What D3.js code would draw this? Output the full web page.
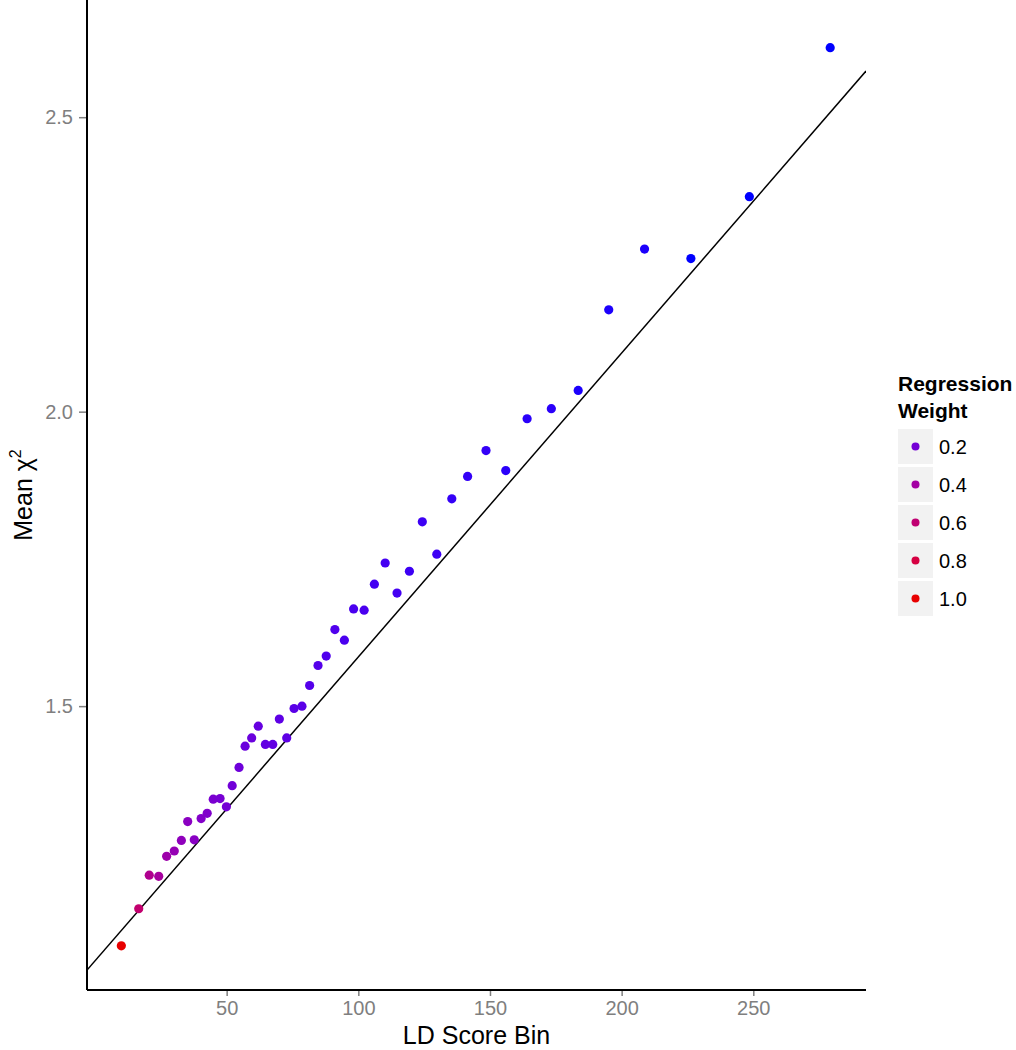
<!DOCTYPE html>
<html>
<head>
<meta charset="utf-8">
<script src="https://cdn.jsdelivr.net/npm/d3@7"></script>
<style>
  body { margin: 0; background: #fff; }
  svg { font-family: "Liberation Sans", Arial, sans-serif; }
  .tick text { fill: #7f7f7f; font-size: 20px; }
  .tick line { stroke: #7f7f7f; }
  .label { font-size: 25px; fill: #000; }
</style>
</head>
<body>
<svg width="1016" height="1050"></svg>
<script>
// LD score bins (x), mean chi-square (y), regression weight (colour)
const ldScore = [10.0, 16.6, 20.6, 24.2, 27.2, 30.1, 32.8, 35.2, 37.7, 40.3,
  42.6, 44.9, 47.5, 49.9, 52.1, 54.7, 57.0, 59.5, 62.0, 64.7,
  67.5, 70.0, 72.8, 75.6, 78.6, 81.5, 84.7, 87.8, 91.1, 94.7,
  98.2, 102.2, 106.1, 110.2, 114.7, 119.4, 124.3, 129.8, 135.5, 141.5,
  148.5, 156.0, 164.1, 173.3, 183.5, 195.1, 208.7, 226.3, 248.5, 279.2];
const meanChi2 = [1.093, 1.156, 1.213, 1.211, 1.245, 1.254, 1.272, 1.304, 1.273, 1.309,
  1.318, 1.342, 1.343, 1.329, 1.365, 1.396, 1.432, 1.446, 1.466, 1.435,
  1.435, 1.478, 1.446, 1.496, 1.500, 1.535, 1.569, 1.585, 1.630, 1.612,
  1.665, 1.663, 1.707, 1.743, 1.692, 1.729, 1.813, 1.758, 1.852, 1.890,
  1.934, 1.900, 1.988, 2.005, 2.036, 2.173, 2.276, 2.260, 2.365, 2.618];
const weight = [1.00, 0.62, 0.48, 0.42, 0.37, 0.33, 0.30, 0.28, 0.27, 0.25,
  0.24, 0.22, 0.21, 0.20, 0.19, 0.18, 0.17, 0.17, 0.16, 0.15,
  0.15, 0.14, 0.14, 0.13, 0.13, 0.12, 0.12, 0.11, 0.11, 0.10,
  0.10, 0.10, 0.09, 0.09, 0.09, 0.08, 0.08, 0.08, 0.07, 0.07,
  0.07, 0.06, 0.06, 0.06, 0.05, 0.05, 0.05, 0.04, 0.04, 0.04];

const xTicks = [50, 100, 150, 200, 250];
const yTicks = [1.5, 2.0, 2.5];
const legendValues = [0.2, 0.4, 0.6, 0.8, 1.0];

// fitted regression line
const intercept = 1.0675;
const slope = 0.00516;

const points = ldScore.map((d, i) => ({ x: d, y: meanChi2[i], w: weight[i] }));

const svg = d3.select('svg');
const plotLeft = 87, plotRight = 866, plotTop = 0, plotBottom = 990;

const xScale = d3.scaleLinear().domain([-3.04, 292.8]).range([plotLeft, plotRight]);
const yScale = d3.scaleLinear().domain([1.018, 2.699]).range([plotBottom, plotTop]);
const color = d3.scaleLinear()
  .domain(d3.extent(weight))
  .range(['blue', '#e80000'])
  .interpolate(d3.interpolateLab);

svg.append('clipPath').attr('id', 'plot')
  .append('rect')
  .attr('x', plotLeft).attr('y', plotTop)
  .attr('width', plotRight - plotLeft).attr('height', plotBottom - plotTop);

// x axis
const xAxis = svg.append('g')
  .attr('transform', `translate(0, ${plotBottom})`)
  .call(d3.axisBottom(xScale).tickValues(xTicks).tickSize(6).tickPadding(5).tickFormat(d3.format('d')));
xAxis.select('.domain').remove();

// y axis
const yAxis = svg.append('g')
  .attr('transform', `translate(${plotLeft}, 0)`)
  .call(d3.axisLeft(yScale).tickValues(yTicks).tickSize(8).tickPadding(6).tickFormat(d3.format('.1f')));
yAxis.select('.domain').remove();
svg.selectAll('.tick line').attr('stroke-width', 1.5);

// axis lines
svg.append('line')
  .attr('x1', plotLeft).attr('x2', plotRight).attr('y1', plotBottom).attr('y2', plotBottom)
  .attr('stroke', '#000').attr('stroke-width', 2);
svg.append('line')
  .attr('x1', plotLeft).attr('x2', plotLeft).attr('y1', plotTop).attr('y2', plotBottom)
  .attr('stroke', '#000').attr('stroke-width', 2);

// regression line
const x0 = xScale.domain()[0], x1 = xScale.domain()[1];
svg.append('line')
  .attr('clip-path', 'url(#plot)')
  .attr('x1', xScale(x0)).attr('y1', yScale(intercept + slope * x0))
  .attr('x2', xScale(x1)).attr('y2', yScale(intercept + slope * x1))
  .attr('stroke', '#000').attr('stroke-width', 1.5);

// points
svg.append('g')
  .selectAll('circle')
  .data(points)
  .enter()
  .append('circle')
  .attr('cx', (d) => xScale(d.x))
  .attr('cy', (d) => yScale(d.y))
  .attr('r', 4.6)
  .attr('fill', (d) => color(d.w));

// axis titles
svg.append('text')
  .attr('class', 'label')
  .attr('x', (plotLeft + plotRight) / 2)
  .attr('y', 1044)
  .attr('text-anchor', 'middle')
  .text('LD Score Bin');

const yTitle = svg.append('text')
  .attr('class', 'label')
  .attr('transform', `translate(32, ${(plotTop + plotBottom) / 2}) rotate(-90)`)
  .attr('text-anchor', 'middle');
yTitle.append('tspan').text('Mean χ');
yTitle.append('tspan').attr('dy', -11).attr('font-size', 16).text('2');

// legend
const legend = svg.append('g').attr('transform', 'translate(898, 0)');
legend.append('text')
  .attr('y', 391)
  .attr('font-size', 21).attr('font-weight', 'bold')
  .text('Regression');
legend.append('text')
  .attr('y', 418)
  .attr('font-size', 21).attr('font-weight', 'bold')
  .text('Weight');

const keys = legend.selectAll('.key')
  .data(legendValues)
  .enter()
  .append('g')
  .attr('class', 'key')
  .attr('transform', (d, i) => `translate(0, ${429 + i * 38})`);
keys.append('rect')
  .attr('width', 35).attr('height', 35)
  .attr('fill', '#f2f2f2');
keys.append('circle')
  .attr('cx', 17.5).attr('cy', 17.5).attr('r', 4)
  .attr('fill', (d) => color(d));
keys.append('text')
  .attr('x', 41).attr('y', 17.5)
  .attr('dy', '0.35em')
  .attr('font-size', 20)
  .text((d) => d3.format('.1f')(d));
</script>
</body>
</html>
